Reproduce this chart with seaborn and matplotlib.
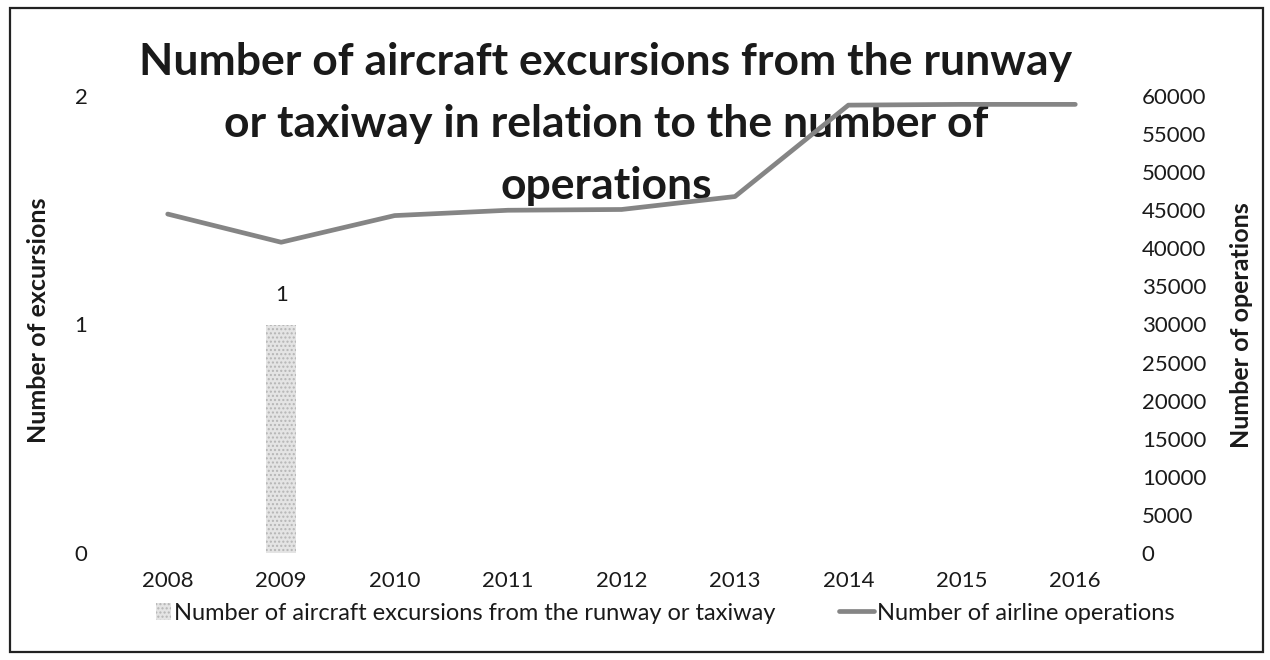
import matplotlib
matplotlib.use("Agg")
import matplotlib.pyplot as plt
from matplotlib.patches import Rectangle, Patch
from matplotlib.lines import Line2D
from matplotlib.legend_handler import HandlerPatch
import seaborn as sns
import pandas as pd

years = ["2008", "2009", "2010", "2011", "2012", "2013", "2014", "2015", "2016"]
excursions = [0, 1, 0, 0, 0, 0, 0, 0, 0]
operations = [44500, 40800, 44300, 45000, 45100, 46800, 58800, 58900, 58900]

excursion_ticks = [0, 1, 2]
operation_ticks = list(range(0, 60001, 5000))

title = ("Number of aircraft excursions from the runway\n"
         "or taxiway in relation to the number of\n"
         "operations")
bar_name = "Number of aircraft excursions from the runway or taxiway"
line_name = "Number of airline operations"

df = pd.DataFrame({"year": years, "excursions": excursions, "operations": operations})

sns.set_theme(style="white")
plt.rcParams["font.family"] = ["Lato", "DejaVu Sans"]

W, H = 1270, 660
fig = plt.figure(figsize=(W / 100, H / 100), dpi=100)
fig.patch.set_facecolor("white")

# plot area in pixel terms
left_px, right_px, top_px, bottom_px = 111, 1132, 96, 553
ax = fig.add_axes([left_px / W, 1 - bottom_px / H,
                   (right_px - left_px) / W, (bottom_px - top_px) / H])
ax.set_facecolor("none")

bar_color = "#e4e4e4"
line_color = "#858585"
txt_color = "#1a1a1a"

sns.barplot(data=df, x="year", y="excursions", ax=ax, width=0.27,
            color=bar_color, edgecolor="#b5b5b5", linewidth=0, hatch="....",
            saturation=1)
ax.set_ylim(0, 2)
ax.set_yticks(excursion_ticks)
ax.set_xlim(-0.5, len(years) - 0.5)

labels = [str(v) if v else "" for v in excursions]
ax.bar_label(ax.containers[0], labels=labels, padding=14, fontsize=16, color=txt_color)

ax2 = ax.twinx()
ax2.set_facecolor("none")
sns.lineplot(data=df, x="year", y="operations", ax=ax2, color=line_color,
             linewidth=3.4, sort=False)
ax2.set_ylim(0, 60000)
ax2.set_yticks(operation_ticks)
ax2.set_xlim(-0.5, len(years) - 0.5)

for a in (ax, ax2):
    for s in a.spines.values():
        s.set_visible(False)
    a.grid(False)

ax.tick_params(axis="x", length=0, pad=13, labelsize=16, labelcolor=txt_color)
ax.tick_params(axis="y", length=0, pad=17, labelsize=16, labelcolor=txt_color)
ax2.tick_params(axis="y", length=0, pad=7, labelsize=16, labelcolor=txt_color)
ax.set_xlabel("")

ax.set_ylabel("Number of excursions", fontsize=18, fontweight="bold", color=txt_color)
ax.yaxis.set_label_coords((50 - left_px) / (right_px - left_px),
                          (bottom_px - 320) / (bottom_px - top_px))
ax2.set_ylabel("Number of operations", fontsize=18, fontweight="bold",
               color=txt_color, rotation=90)
ax2.yaxis.set_label_coords((1230 - left_px) / (right_px - left_px),
                           (bottom_px - 325) / (bottom_px - top_px))

# chart title sits behind the plotted series
fig.text(606 / W, 1 - 124 / H, title, ha="center", va="center",
         multialignment="center", fontsize=32, fontweight="bold",
         color=txt_color, linespacing=1.68, zorder=-1)


def narrow_patch(legend, orig_handle, xdescent, ydescent, width, height, fontsize):
    w = width * 0.42
    return Rectangle((width - w - xdescent, -ydescent), w, height)


handles = [Patch(facecolor=bar_color, edgecolor="#b5b5b5", hatch="....", linewidth=0),
           Line2D([0], [0], color=line_color, linewidth=3.4)]
fig.legend(handles, [bar_name, line_name], loc="center",
           bbox_to_anchor=(655 / W, 1 - 613 / H), ncol=2, frameon=False,
           fontsize=17, handlelength=1.5, handletextpad=0.1,
           columnspacing=2.7, labelcolor=txt_color,
           handler_map={Patch: HandlerPatch(patch_func=narrow_patch)})

# outer chart border
fig.add_artist(Rectangle((10 / W, 1 - 652 / H), 1253 / W, 644 / H,
                         transform=fig.transFigure, fill=False,
                         edgecolor="#222222", linewidth=1.6))

fig.savefig("out.png", dpi=100)
